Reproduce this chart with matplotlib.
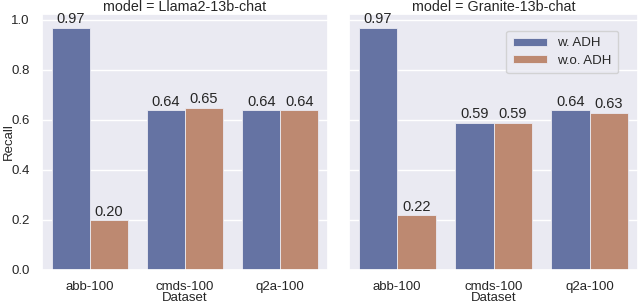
import matplotlib
matplotlib.use("Agg")
import matplotlib.pyplot as plt
import numpy as np
import seaborn as sns

sns.set_theme(style="darkgrid")
plt.rcParams['font.family'] = ['Liberation Sans', 'DejaVu Sans']

datasets = ["abb-100", "cmds-100", "q2a-100"]
models = ["Llama2-13b-chat", "Granite-13b-chat"]
series = ["w. ADH", "w.o. ADH"]
recall_llama = {"w. ADH": [0.97, 0.64, 0.64], "w.o. ADH": [0.20, 0.65, 0.64]}
recall_granite = {"w. ADH": [0.97, 0.59, 0.64], "w.o. ADH": [0.22, 0.59, 0.63]}
values = [recall_llama, recall_granite]

colors = ["#6573a3", "#bd8971"]
fs = 9.5

fig = plt.figure(figsize=(6.4, 3.04), dpi=100)
ax1 = fig.add_axes([42/640, 1-270/304, 286/640, 256/304])
ax2 = fig.add_axes([349/640, 1-270/304, 289/640, 256/304], sharey=ax1)
axes = [ax1, ax2]
x = np.arange(len(datasets))
w = 0.4
for ax, model, vals in zip(axes, models, values):
    for i, s in enumerate(series):
        bars = ax.bar(x + (i - 0.5) * w, vals[s], width=w, color=colors[i],
                      edgecolor='#eaeaf2', linewidth=0.6, label=s)
        ax.bar_label(bars, labels=[f"{v:.2f}" for v in vals[s]], fontsize=10.5, padding=1)
    ax.set_xticks(x)
    ax.set_xticklabels(datasets, fontsize=fs)
    ax.set_xlim(-0.5, 2.5)
    ax.set_ylim(0, 1.024)
    ax.set_title(f"model = {model}", fontsize=10.3, pad=2)
    ax.set_xlabel("Dataset", fontsize=fs, labelpad=-1)
    ax.tick_params(axis='x', labelsize=fs, pad=2)
    ax.tick_params(axis='y', labelsize=fs, pad=3)
    ax.grid(axis='x', visible=False)
ax1.set_yticks([0, 0.2, 0.4, 0.6, 0.8, 1.0])
ax1.set_ylabel("Recall", fontsize=fs)
ax1.yaxis.set_label_coords(-0.095, 0.5)
plt.setp(ax2.get_yticklabels(), visible=False)
ax2.tick_params(axis='y', length=0)
ax2.legend(loc='upper right', bbox_to_anchor=(0.955, 0.96), fontsize=fs, frameon=True,
           handlelength=2.6, handleheight=0.6, borderpad=0.5, labelspacing=0.4)
fig.savefig("out.png", dpi=100)
